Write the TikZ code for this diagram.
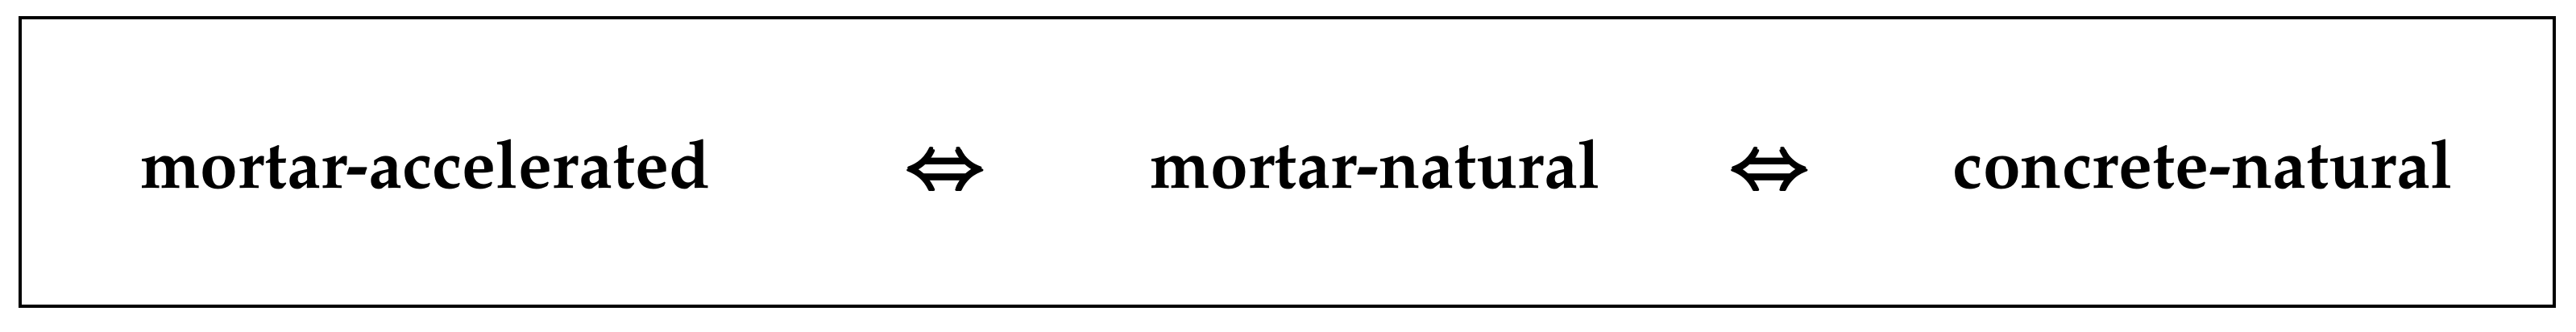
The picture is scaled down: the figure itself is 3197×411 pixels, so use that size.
\documentclass[tikz,border=0pt]{standalone}
\usepackage[T1]{fontenc}
\usepackage{mathpazo}
\usepackage{amsmath}
\begin{document}
\begin{tikzpicture}[x=0.25pt,y=-0.25pt,
  lbl/.style={anchor=base,inner sep=0pt,font=\fontsize{21}{25}\selectfont\bfseries},
  arr/.style={anchor=base,inner sep=0pt,font=\fontsize{21}{25}\selectfont\boldmath}]
\useasboundingbox (0,0) rectangle (3197,411);
\draw[line width=1pt] (25,22) rectangle (3170,380);
\node[lbl] (ma) at (528,233) {mortar-accelerated};
\node[arr] (a1) at (1175,233) {$\pmb{\Leftrightarrow}$};
\node[lbl] (mn) at (1707,233) {mortar-natural};
\node[arr] (a2) at (2198,233) {$\pmb{\Leftrightarrow}$};
\node[lbl] (cn) at (2734,233) {concrete-natural};
\end{tikzpicture}
\end{document}
